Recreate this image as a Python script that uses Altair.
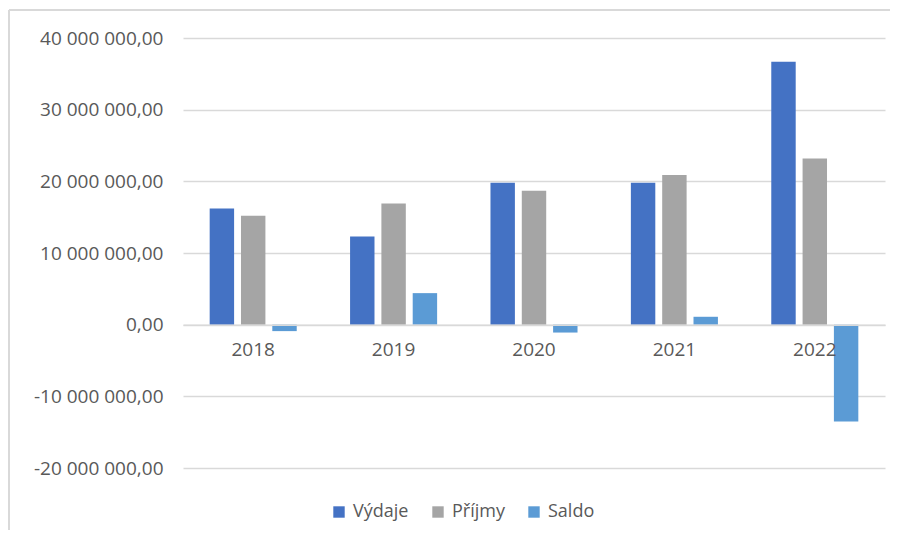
import altair as alt
import pandas as pd

years = ["2018", "2019", "2020", "2021", "2022"]
series = ["Výdaje", "Příjmy", "Saldo"]
vydaje = [16200000, 12300000, 19800000, 19800000, 36700000]
prijmy = [15200000, 16900000, 18700000, 20900000, 23200000]
saldo = [-900000, 4400000, -1100000, 1100000, -13500000]
colors = ["#4472C4", "#A5A5A5", "#5B9BD5"]
y_ticks = [-20000000, -10000000, 0, 10000000, 20000000, 30000000, 40000000]

rows = []
for i, y in enumerate(years):
    for s, vals in zip(series, [vydaje, prijmy, saldo]):
        rows.append({"rok": y, "serie": s, "hodnota": vals[i]})
df = pd.DataFrame(rows)

FONT = "Open Sans"
TXT = "#595959"
GRID = "#D9D9D9"

bars = alt.Chart(df).mark_bar().encode(
    x=alt.X("rok:N", sort=years,
            scale=alt.Scale(paddingInner=0.38, paddingOuter=0.19),
            axis=alt.Axis(title=None, labelAngle=0, ticks=False, offset=-143.3,
                          domainColor=GRID, domainWidth=1.5, labelPadding=16,
                          labelFont=FONT, labelFontSize=19, labelColor=TXT,
                          zindex=1, grid=False)),
    xOffset=alt.XOffset("serie:N", sort=series,
                        scale=alt.Scale(paddingInner=0.22, paddingOuter=0)),
    y=alt.Y("hodnota:Q",
            scale=alt.Scale(domain=[-20000000, 40000000], nice=False, zero=False),
            axis=alt.Axis(title=None, values=y_ticks, domain=False, ticks=False,
                          labelPadding=20, labelFont=FONT, labelFontSize=19,
                          labelColor=TXT, gridColor=GRID, gridWidth=1.5,
                          labelExpr="datum.value == 0 ? '0,00' : (datum.value/1000000) + ' 000 000,00'")),
    color=alt.Color("serie:N", sort=series,
                    scale=alt.Scale(domain=series, range=colors),
                    legend=alt.Legend(title=None, orient="none", direction="horizontal",
                                      legendX=147, legendY=465, symbolType="square",
                                      symbolSize=130, symbolStrokeWidth=0,
                                      labelFont=FONT, labelFontSize=18, labelColor=TXT,
                                      labelOffset=5, columnPadding=20)),
)

frame = pd.DataFrame({"a": [0]})
top_line = alt.Chart(frame).mark_rule(color=GRID, strokeWidth=2).encode(
    x=alt.value(-174), x2=alt.value(710), y=alt.value(-28))
left_line = alt.Chart(frame).mark_rule(color=GRID, strokeWidth=2).encode(
    x=alt.value(-174), y=alt.value(-28), y2=alt.value(520))

chart = alt.layer(bars, top_line, left_line).properties(
    width=702, height=430,
    autosize=alt.AutoSizeParams(type="none"),
    padding={"left": 175, "top": 30, "right": 5, "bottom": 62},
).configure_view(stroke=None)

chart.save("out.html", embed_options={"renderer": "svg", "actions": False})
